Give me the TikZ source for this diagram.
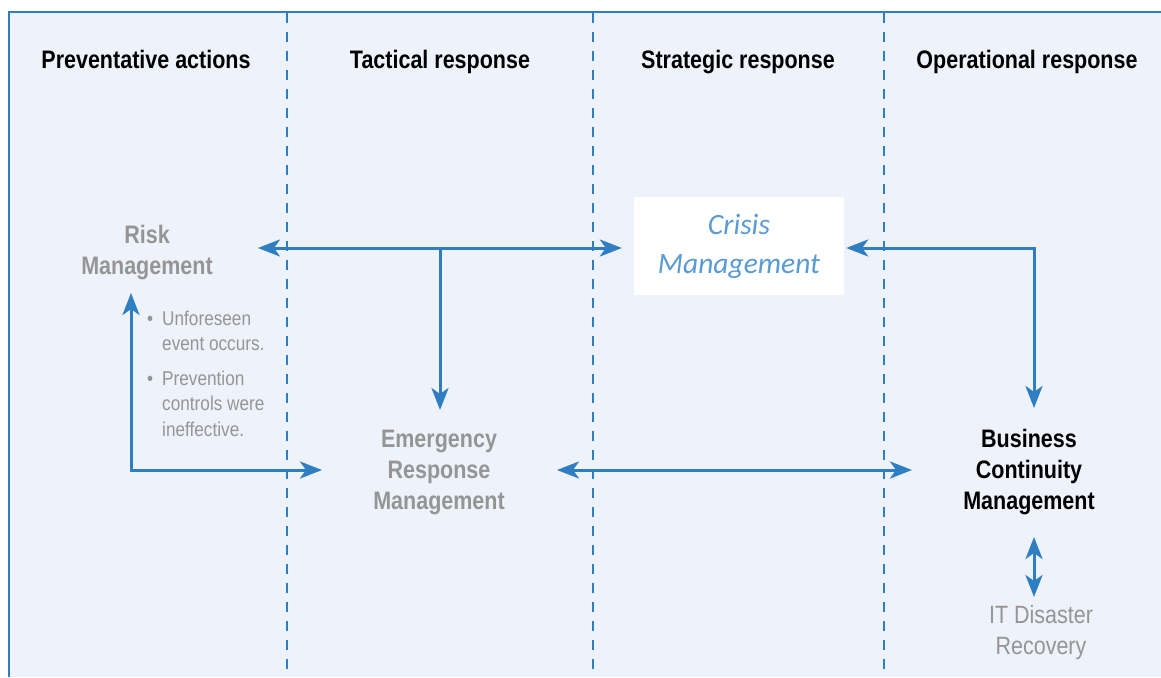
\documentclass[tikz,border=0pt]{standalone}
\usepackage{fontspec}
\setmainfont{Liberation Sans}
\newfontfamily\condfont[FakeStretch=0.85]{Liberation Sans}
\newfontfamily\bulfont[FakeStretch=0.86]{Liberation Sans}
\newfontfamily\calfont{Carlito}
\usetikzlibrary{arrows.meta}
\definecolor{bgc}{HTML}{EEF2FA}
\definecolor{lineblue}{HTML}{2E7EC1}
\definecolor{graytxt}{HTML}{959595}
\definecolor{crisisblue}{HTML}{5B9BD5}
\tikzset{
  frameline/.style={draw=lineblue, line width=2pt},
  divider/.style={draw=lineblue, line width=2pt, dash pattern=on 10pt off 9pt},
  arr/.style={draw=lineblue, line width=3pt, >={Stealth[length=22pt,width=17pt,inset=6pt]}},
  head/.style={anchor=base, inner sep=0pt, text=black, font=\condfont\bfseries\fontsize{25.3}{31}\selectfont},
  lbl/.style={anchor=base, inner sep=0pt, align=center, font=\condfont\bfseries\fontsize{25.3}{31}\selectfont},
  bul/.style={anchor=base west, inner sep=0pt, text=graytxt, font=\bulfont\fontsize{20}{25.5}\selectfont},
  itlbl/.style={anchor=base, inner sep=0pt, align=center, text=graytxt, font=\bulfont\fontsize{25}{31}\selectfont},
  crisisbox/.style={fill=white, minimum width=210pt, minimum height=98pt, inner sep=0pt, align=center, text=crisisblue, font=\calfont\itshape\fontsize{29.5}{39}\selectfont}
}
\begin{document}
\begin{tikzpicture}[x=1pt,y=-1pt]
\useasboundingbox (0,0) rectangle (1161,677);
\fill[bgc] (9,12) rectangle (1161,677);
\draw[frameline] (9,677) -- (9,12) -- (1161,12);
\foreach \xx in {287,593,884} \draw[divider] (\xx,13) -- (\xx,677);

% headers
\node[head] (h1) at (146,69) {Preventative actions};
\node[head] (h2) at (440,69) {Tactical response};
\node[head] (h3) at (738,69) {Strategic response};
\node[head] (h4) at (1027,69) {Operational response};

% labels
\node[lbl, text=graytxt] (rm) at (147,274) {Risk\\Management};
\node[bul] (bl) at (147,325) {\begin{tabular}[t]{@{}c@{\hspace{9pt}}l@{}}\textbullet & Unforeseen\\ & event occurs.\\[9pt] \textbullet & Prevention\\ & controls were\\ & ineffective.\end{tabular}};
\node[crisisbox] (cm) at (739,246) {Crisis\\Management};
\node[lbl, text=graytxt] (erm) at (439,509) {Emergency\\Response\\Management};
\node[lbl, text=black] (bcm) at (1029,509) {Business\\Continuity\\Management};
\node[itlbl] (itdr) at (1041,654) {IT Disaster\\Recovery};

% connector points
\coordinate (rmR) at (258,248);
\coordinate (j1) at (440,248);
\coordinate (ermT) at (440,410);
\coordinate (k1) at (1034,248);
\coordinate (bcmT) at (1034,408);
\coordinate (rmB) at (131,293);
\coordinate (c1) at (131,470);
\coordinate (ermL) at (322,470);
\coordinate (ermR) at (557,470);
\coordinate (bcmL) at (912,470);
\coordinate (bcmB) at (1034,537);
\coordinate (itT) at (1034,597);

% connectors
\draw[arr,<->] (rmR) -- ([xshift=-12pt]cm.west |- j1);
\draw[arr,->] (j1) -- (ermT);
\draw[arr,<->] ([xshift=2pt]cm.east |- k1) -- (k1) -- (bcmT);
\draw[arr,<->] (rmB) -- (c1) -- (ermL);
\draw[arr,<->] (ermR) -- (bcmL);
\draw[arr,<->] (bcmB) -- (itT);
\end{tikzpicture}
\end{document}
